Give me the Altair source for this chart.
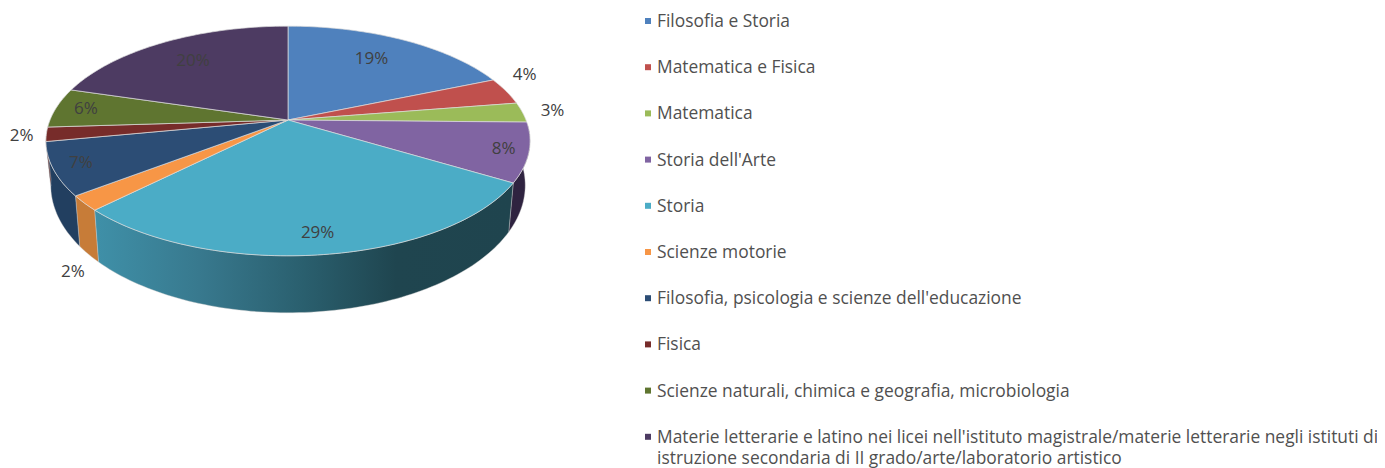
import math
import altair as alt

categories = ["Filosofia e Storia", "Matematica e Fisica", "Matematica", "Storia dell'Arte", "Storia",
              "Scienze motorie", "Filosofia, psicologia e scienze dell'educazione", "Fisica",
              "Scienze naturali, chimica e geografia, microbiologia",
              "Materie letterarie e latino nei licei nell'istituto magistrale/materie letterarie negli istituti di|istruzione secondaria di II grado/arte/laboratorio artistico"]
shares = [18.7, 3.8, 2.8, 8.3, 28.9, 2.1, 7.4, 2.0, 5.6, 20.4]
top_colors = ["#4F81BD", "#C0504D", "#9BBB59", "#8064A2", "#4BACC6", "#F79646", "#2C4D75", "#772C2A", "#5F7530", "#4D3B62"]
side_colors = ["#3B6190", "#903C3A", "#748C43", "#2F2340", "#2F6D7F", "#C77C38", "#223F60", "#591F1E", "#475823", "#3A2C49"]
label_radius = [0.70, 1.09, 1.13, 0.90, 0.86, 1.05, 0.89, 1.10, 0.87, 0.74]
label_drop = [-3, -14, 0, 0, 1, 64, 0, 0, 0, 0]

CX, CY, RX, RY, K = 280, 112, 238, 111, 0.1826
DEPTH = 42


def top_pt(theta, f=1.0):
    u, v = f * math.sin(theta), f * math.cos(theta)
    w = 1 + K * v
    return (CX + RX * u / w, CY - RY * v / w)


def bottom_pt(theta):
    x, y = top_pt(theta)
    return (CX + (x - CX) * 0.98, CY + (y - CY) * 1.11 + DEPTH)


def feature(name, ring):
    ring = [list(p) for p in ring]
    return {"type": "Feature", "properties": {"name": name},
            "geometry": {"type": "Polygon", "coordinates": [ring + [ring[0]]]}}


tops, sides, labels = [], [], []
cum = 0.0
for name, s, side, f, drop in zip(categories, shares, side_colors, label_radius, label_drop):
    a0, a1 = cum * 0.02 * math.pi, (cum + s) * 0.02 * math.pi
    n = max(4, int(s * 3))
    arc = [a0 + (a1 - a0) * i / n for i in range(n + 1)]
    tops.append(feature(name, [(CX, CY)] + [top_pt(t) for t in arc]))
    lo, hi = max(a0, math.radians(92)), min(a1, math.radians(262))
    if lo < hi:
        wall = [lo + (hi - lo) * i / n for i in range(n + 1)]
        ft = feature(name, [top_pt(t) for t in wall] + [bottom_pt(t) for t in reversed(wall)])
        ft["properties"]["side"] = side
        sides.append(ft)
    lx, ly = top_pt((a0 + a1) / 2, f)
    labels.append({"lon": lx, "lat": ly + drop, "txt": f"{round(s)}%"})
    cum += s

FONT = "Open Sans"
proj = dict(type="identity", scale=1, translate=[0, 0])
color_scale = alt.Scale(domain=categories, range=top_colors)

storia = "Storia"
wall_layer = alt.Chart(alt.Data(values=[f for f in sides if f["properties"]["name"] != storia])).mark_geoshape(
    strokeWidth=0.4, stroke="#cccccc").encode(
    fill=alt.Fill("properties.side:N", scale=None, legend=None)).project(**proj)

wall_gradient = alt.LinearGradient(gradient="linear", x1=0, x2=1, y1=0, y2=0, stops=[
    alt.GradientStop(offset=0, color="#3F90A8"),
    alt.GradientStop(offset=0.25, color="#38798E"),
    alt.GradientStop(offset=0.5, color="#2A5F6E"),
    alt.GradientStop(offset=0.72, color="#1F454F"),
    alt.GradientStop(offset=1, color="#1F444E")])
storia_wall = alt.Chart(alt.Data(values=[f for f in sides if f["properties"]["name"] == storia])).mark_geoshape(
    fill=wall_gradient, strokeWidth=0.4, stroke="#cccccc").project(**proj)

top_layer = alt.Chart(alt.Data(values=tops)).mark_geoshape(stroke="#dddddd", strokeWidth=0.7).encode(
    fill=alt.Fill("properties.name:N", scale=color_scale, legend=None)).project(**proj)

label_layer = alt.Chart(alt.Data(values=labels)).mark_text(
    font=FONT, fontSize=17, color="#404040", align="center", baseline="middle").encode(
    longitude="lon:Q", latitude="lat:Q", text="txt:N").project(**proj)

LEG_X, LEG_Y, LEG_STEP = 640, 13, 46.2
legend_rows = [{"name": c, "lon": LEG_X, "lat": LEG_Y + i * LEG_STEP} for i, c in enumerate(categories)]
legend_text_rows = [{"name": c, "lon": LEG_X + 9, "lat": LEG_Y + i * LEG_STEP - 8} for i, c in enumerate(categories)]

legend_marks = alt.Chart(alt.Data(values=legend_rows)).mark_square(size=36, opacity=1).encode(
    longitude=alt.Longitude("lon:Q"), latitude=alt.Latitude("lat:Q"),
    fill=alt.Fill("name:N", scale=color_scale, legend=None)).project(**proj)

legend_text = alt.Chart(alt.Data(values=legend_text_rows)).mark_text(
    font=FONT, fontSize=17.4, color="#505050", align="left", baseline="top", lineBreak="|", lineHeight=21).encode(
    longitude=alt.Longitude("lon:Q"), latitude=alt.Latitude("lat:Q"), text="name:N").project(**proj)

chart = alt.layer(wall_layer, storia_wall, top_layer, label_layer, legend_marks, legend_text).resolve_scale(
    fill="independent").properties(
    width=1369, height=460, padding=0, autosize=alt.AutoSizeParams(type="none")
).configure_view(stroke=None)

chart.save("out.html", embed_options={"renderer": "svg", "actions": False})
